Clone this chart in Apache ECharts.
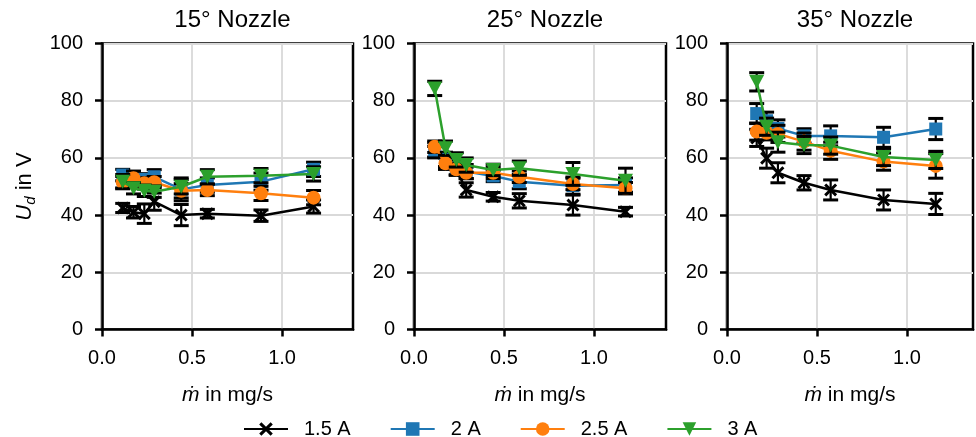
<!DOCTYPE html>
<html><head><meta charset="utf-8">
<script src="https://cdn.jsdelivr.net/npm/echarts@6/dist/echarts.min.js"></script>
<style>html,body{margin:0;padding:0;background:#fff}#c{width:976px;height:437px}</style>
</head><body><div id="c"></div>
<script>
// ---- data ----
const seriesNames = ['1.5 A', '2 A', '2.5 A', '3 A'];
const panelTitles = ['15° Nozzle', '25° Nozzle', '35° Nozzle'];
const xTicks = [0, 0.5, 1.0];
const yTicks = [0, 20, 40, 60, 80, 100];

// mass flow (mg/s)
const x15 = [0.115, 0.175, 0.235, 0.29, 0.44, 0.585, 0.883, 1.175];
const x25 = [0.115, 0.175, 0.235, 0.29, 0.44, 0.585, 0.883, 1.175];
const x35 = [0.165, 0.22, 0.283, 0.428, 0.576, 0.87, 1.16];

// 15° nozzle: discharge voltage (V) and error (V)
const u15_a15 = [42.5, 41.0, 40.5, 44.7, 40.0, 40.5, 39.8, 43.0];
const e15_a15 = [1.6, 2.0, 3.4, 3.0, 3.7, 1.5, 2.0, 2.3];
const u15_a20 = [54.0, 52.0, 52.5, 53.4, 49.0, 50.5, 51.7, 56.0];
const e15_a20 = [2.0, 2.0, 2.0, 2.5, 4.0, 2.5, 3.0, 2.5];
const u15_a25 = [51.5, 52.9, 51.1, 51.5, 48.5, 48.8, 47.6, 46.1];
const e15_a25 = [2.0, 2.5, 2.0, 2.0, 2.5, 2.0, 2.5, 2.5];
const u15_a30 = [51.7, 49.4, 48.5, 48.2, 49.9, 53.4, 53.8, 54.4];
const e15_a30 = [2.5, 2.0, 2.0, 2.0, 2.5, 2.5, 2.5, 2.5];

// 25° nozzle
const u25_a15 = [62.0, 58.0, 56.0, 48.8, 46.4, 45.0, 43.5, 41.2];
const e25_a15 = [2.0, 2.0, 2.0, 2.5, 1.5, 2.5, 3.5, 1.5];
const u25_a20 = [62.8, 59.5, 56.5, 55.2, 53.7, 51.7, 50.3, 50.5];
const e25_a20 = [2.5, 2.5, 2.5, 2.5, 2.0, 2.5, 3.0, 2.5];
const u25_a25 = [63.9, 58.1, 56.0, 54.8, 54.8, 53.4, 50.9, 49.4];
const e25_a25 = [2.0, 2.0, 2.0, 2.0, 2.0, 2.0, 2.0, 2.0];
const u25_a30 = [84.3, 63.4, 59.3, 57.5, 55.8, 56.4, 54.4, 52.0];
const e25_a30 = [2.5, 2.5, 2.5, 2.5, 2.0, 2.5, 4.0, 4.4];

// 35° nozzle
const u35_a15 = [67.0, 59.9, 54.8, 51.3, 48.8, 45.3, 43.9];
const e35_a15 = [3.0, 3.5, 3.5, 2.5, 3.5, 3.5, 3.7];
const u35_a20 = [75.5, 73.0, 70.3, 67.7, 67.7, 67.2, 70.1];
const e35_a20 = [3.5, 3.0, 3.0, 2.5, 3.5, 3.5, 3.7];
const u35_a25 = [69.2, 68.8, 68.4, 65.7, 62.5, 58.7, 57.2];
const e35_a25 = [3.0, 2.5, 3.0, 3.0, 3.0, 3.0, 4.3];
const u35_a30 = [86.6, 70.9, 65.5, 64.5, 64.3, 60.3, 59.3];
const e35_a30 = [3.2, 3.0, 3.5, 3.0, 3.0, 3.0, 3.0];

// ---- assembly ----
const panels = [
  {x: x15, u: [u15_a15, u15_a20, u15_a25, u15_a30], e: [e15_a15, e15_a20, e15_a25, e15_a30]},
  {x: x25, u: [u25_a15, u25_a20, u25_a25, u25_a30], e: [e25_a15, e25_a20, e25_a25, e25_a30]},
  {x: x35, u: [u35_a15, u35_a20, u35_a25, u35_a30], e: [e35_a15, e35_a20, e35_a25, e35_a30]}
];
const FONT = 'Liberation Sans, Arial, sans-serif';
const colors = ['#000000', '#1f77b4', '#ff7f0e', '#2ca02c'];
const symbols = [
  'path://M0,1.6L1.6,0L5,3.4L8.4,0L10,1.6L6.6,5L10,8.4L8.4,10L5,6.6L1.6,10L0,8.4L3.4,5Z',
  'rect', 'circle', 'path://M0,0L10,0L5,9Z'
];
const symbolSizes = [13, 13, 14, [15, 14]];
const gridBoxes = [
  {left: 102, width: 251, xmax: 1.394},
  {left: 414, width: 252, xmax: 1.4},
  {left: 727, width: 246, xmax: 1.367}
];

function errRender(params, api) {
  const x = api.value(0), y = api.value(1), e = api.value(2);
  const t = api.coord([x, y + e]), b = api.coord([x, y - e]);
  const cw = 7.5;
  return {type: 'group', children: [
    {type: 'line', shape: {x1: t[0], y1: t[1], x2: b[0], y2: b[1]}, style: {stroke: '#000', lineWidth: 2.2}},
    {type: 'line', shape: {x1: t[0] - cw, y1: t[1], x2: t[0] + cw, y2: t[1]}, style: {stroke: '#000', lineWidth: 3}},
    {type: 'line', shape: {x1: b[0] - cw, y1: b[1], x2: b[0] + cw, y2: b[1]}, style: {stroke: '#000', lineWidth: 3}}
  ]};
}

const grids = [], xAxes = [], yAxes = [], titles = [], series = [];
gridBoxes.forEach((g, p) => {
  grids.push({left: g.left, top: 43.5, width: g.width, height: 286, show: true,
    borderColor: '#000', borderWidth: 2.5, backgroundColor: 'transparent', containLabel: false});
  titles.push({text: panelTitles[p], left: g.left + g.width / 2, top: 3, textAlign: 'center',
    textStyle: {fontSize: 24, fontWeight: 'normal', color: '#000', fontFamily: FONT}});
  xAxes.push({type: 'value', gridIndex: p, min: 0, max: g.xmax, interval: 0.5,
    axisLine: {show: true, onZero: false, lineStyle: {color: '#000', width: 2.5}},
    axisTick: {show: true, length: 7, lineStyle: {color: '#000', width: 2.5}, customValues: xTicks},
    axisLabel: {customValues: xTicks, formatter: v => v.toFixed(1), fontSize: 20, color: '#000', margin: 19, fontFamily: FONT},
    splitLine: {show: true, lineStyle: {color: '#d9d9d9', width: 1.8}},
    name: '{i|ṁ}{n| in mg/s}', nameLocation: 'middle', nameGap: 55,
    nameTextStyle: {fontSize: 21, color: '#000', fontFamily: FONT,
      rich: {i: {fontStyle: 'italic', fontSize: 21, fontFamily: FONT, color: '#000'},
             n: {fontSize: 21, fontFamily: FONT, color: '#000'}}}
  });
  const ya = {type: 'value', gridIndex: p, min: 0, max: 100, interval: 20,
    axisLine: {show: true, onZero: false, lineStyle: {color: '#000', width: 2.5}},
    axisTick: {show: true, length: 7, lineStyle: {color: '#000', width: 2.5}},
    axisLabel: {fontSize: 20, color: '#000', margin: 19, fontFamily: FONT},
    splitLine: {show: true, lineStyle: {color: '#d9d9d9', width: 1.8}}
  };
  if (p === 0) {
    ya.name = '{i|U}{s|d}{n| in V}';
    ya.nameLocation = 'middle';
    ya.nameGap = 64;
    ya.nameRotate = 90;
    ya.nameTextStyle = {fontSize: 21, color: '#000', fontFamily: FONT,
      rich: {i: {fontStyle: 'italic', fontSize: 22, lineHeight: 26, fontFamily: FONT, color: '#000'},
             s: {fontStyle: 'italic', fontSize: 15, lineHeight: 14, verticalAlign: 'bottom', fontFamily: FONT, color: '#000'},
             n: {fontSize: 22, lineHeight: 26, fontFamily: FONT, color: '#000'}}};
  }
  yAxes.push(ya);
  const pan = panels[p];
  for (let s = 0; s < 4; s++) {
    series.push({type: 'custom', name: seriesNames[s] + ' err', xAxisIndex: p, yAxisIndex: p,
      renderItem: errRender, encode: {x: 0, y: 1}, z: 2 + 2 * s, silent: true, clip: false,
      data: pan.x.map((v, i) => [v, pan.u[s][i], pan.e[s][i]])});
    series.push({type: 'line', name: seriesNames[s], xAxisIndex: p, yAxisIndex: p,
      data: pan.x.map((v, i) => [v, pan.u[s][i]]),
      symbol: symbols[s], symbolSize: symbolSizes[s], showAllSymbol: true,
      lineStyle: {color: colors[s], width: 2.5}, itemStyle: {color: colors[s], opacity: 1},
      z: 3 + 2 * s, clip: false, emphasis: {disabled: true}});
  }
});

const chart = echarts.init(document.getElementById('c'), null, {renderer: 'canvas'});
chart.setOption({
  animation: false,
  backgroundColor: '#fff',
  textStyle: {fontFamily: FONT},
  title: titles,
  grid: grids,
  xAxis: xAxes,
  yAxis: yAxes,
  legend: {data: seriesNames, left: 238, top: 414, itemWidth: 44, itemHeight: 17, itemGap: 39,
    textStyle: {fontSize: 20, color: '#000', fontFamily: FONT, padding: [0, 0, 0, 11]}},
  series: series
});
</script>
</body></html>
